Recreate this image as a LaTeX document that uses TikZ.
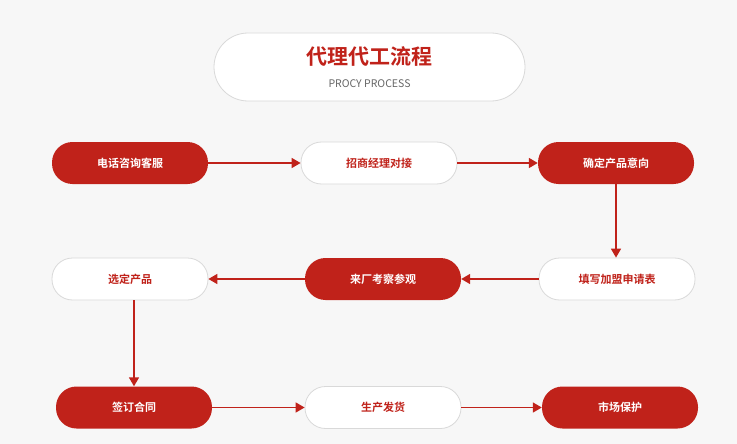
\documentclass[tikz,border=0pt]{standalone}
\usepackage{fontspec}
\newfontfamily\cjk{Noto Sans CJK SC}
\newfontfamily\cjkb{Noto Sans CJK SC Bold}
\usetikzlibrary{arrows.meta}
\definecolor{rd}{HTML}{C0221A}
\definecolor{bg}{HTML}{F7F7F7}
\definecolor{bd}{HTML}{D9D9D9}
\tikzset{
 pill/.style={rounded corners=20.5pt,minimum width=156pt,minimum height=42pt,inner sep=0pt,font=\cjkb\fontsize{11}{13}\selectfont},
 redpill/.style={pill,fill=rd,text=white},
 whitepill/.style={pill,fill=white,draw=bd,line width=0.8pt,text=rd},
 conn/.style={draw=rd,line width=1.6pt,-{Triangle[length=9pt,width=10pt]}}
}
\begin{document}
\begin{tikzpicture}[x=1pt,y=-1pt]
\fill[bg] (0,0) rectangle (737,444);
\useasboundingbox (0,0) rectangle (737,444);
\node[draw=bd,fill=white,line width=0.8pt,rounded corners=34pt,minimum width=311pt,minimum height=68pt] (title) at (369.5,67) {};
\node[text=rd,font=\cjkb\fontsize{21}{24}\selectfont] (t1) at (369.5,57) {代理代工流程};
\node[text=gray!80!black,font=\cjk\fontsize{10.5}{12}\selectfont] (t2) at (369.5,84) {PROCY PROCESS};
\node[redpill] (a1) at (130,163) {电话咨询客服};
\node[whitepill] (a2) at (379,163) {招商经理对接};
\node[redpill] (a3) at (616,163) {确定产品意向};
\node[whitepill] (b1) at (130,279) {选定产品};
\node[redpill] (b2) at (383,279) {来厂考察参观};
\node[whitepill] (b3) at (617,279) {填写加盟申请表};
\node[redpill] (c1) at (134,407.5) {签订合同};
\node[whitepill] (c2) at (383,407.5) {生产发货};
\node[redpill] (c3) at (620,407.5) {市场保护};
\draw[conn] (a1) -- (a2);
\draw[conn] (a2) -- (a3);
\draw[conn] (a3) -- (a3|-b3.north);
\draw[conn] (b3) -- (b2);
\draw[conn] (b2) -- (b1);
\draw[conn] (b1.south-|c1) -- (c1);
\draw[conn] (c1) -- (c2);
\draw[conn] (c2) -- (c3);
\end{tikzpicture}
\end{document}
